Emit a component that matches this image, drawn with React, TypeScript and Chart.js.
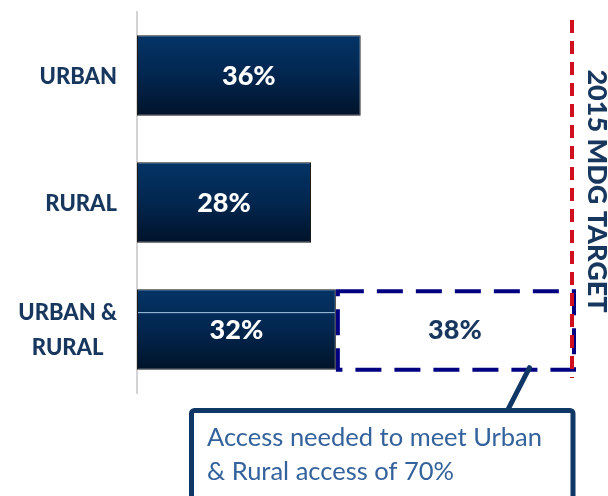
import React, { useEffect, useRef } from "react";
import { Chart, registerables } from "chart.js";

Chart.register(...registerables);

const categories: string[][] = [["URBAN"], ["RURAL"], ["URBAN &", "RURAL"]];
const currentAccess: number[] = [36, 28, 32];
const accessNeeded: (number | null)[] = [null, null, 38];
const targetValue = 70;
const targetLabel = "2015 MDG TARGET";
const calloutLines: string[] = ["Access needed to meet Urban", "& Rural access of 70%"];

const NAVY = "#17375e";
const FONT = "Lato, 'Open Sans', sans-serif";

const overlayPlugin = {
  id: "overlay",
  afterDatasetsDraw(chart: any) {
    const { ctx, chartArea, scales } = chart;
    const xs = scales.x;
    const ys = scales.y;
    ctx.save();

    // category labels
    ctx.fillStyle = NAVY;
    ctx.font = `900 22px ${FONT}`;
    ctx.textBaseline = "middle";
    const labelRight = chartArea.left - 20;
    const lineH = 35;
    categories.forEach((lines, i) => {
      const cy = ys.getPixelForValue(i);
      const maxW = Math.max(...lines.map((l) => ctx.measureText(l).width));
      const cx = labelRight - maxW / 2;
      ctx.textAlign = "center";
      lines.forEach((l, j) => {
        const ly = cy + (j - (lines.length - 1) / 2) * lineH;
        ctx.fillText(l, cx, ly + 1);
      });
    });

    // value labels in current-access bars + light line on combined bar
    const meta0 = chart.getDatasetMeta(0);
    meta0.data.forEach((el: any, i: number) => {
      const p = el.getProps(["x", "y", "base", "height"], true);
      if (i === 2) {
        const top = p.y - p.height / 2;
        ctx.strokeStyle = "#a9c8e8";
        ctx.lineWidth = 1;
        ctx.beginPath();
        ctx.moveTo(p.base + 1, top + p.height * 0.29);
        ctx.lineTo(p.x - 1, top + p.height * 0.29);
        ctx.stroke();
      }
      ctx.fillStyle = "#ffffff";
      ctx.font = `900 27px ${FONT}`;
      ctx.textAlign = "center";
      ctx.textBaseline = "middle";
      ctx.fillText(`${currentAccess[i]}%`, (p.x + p.base) / 2, p.y + 1);
    });

    // dashed "needed" box
    const meta1 = chart.getDatasetMeta(1);
    meta1.data.forEach((el: any, i: number) => {
      if (accessNeeded[i] == null) return;
      const p = el.getProps(["x", "y", "base", "height"], true);
      const top = p.y - p.height / 2 + 2;
      const h = p.height - 2;
      ctx.strokeStyle = "#000080";
      ctx.lineWidth = 4;
      ctx.setLineDash([26, 13]);
      ctx.strokeRect(p.base + 2, top, p.x - p.base, h);
      ctx.setLineDash([]);
      ctx.fillStyle = NAVY;
      ctx.font = `900 27px ${FONT}`;
      ctx.textAlign = "center";
      ctx.textBaseline = "middle";
      ctx.fillText(`${accessNeeded[i]}%`, (p.x + p.base) / 2 + 1, p.y + 1);

      // callout connector
      const bottom = top + h;
      ctx.strokeStyle = "#0f3766";
      ctx.lineWidth = 5;
      ctx.lineCap = "round";
      ctx.beginPath();
      ctx.moveTo(p.base + (p.x - p.base) * 0.82, bottom - 2);
      ctx.lineTo(p.base + (p.x - p.base) * 0.72, bottom + 44);
      ctx.stroke();
      ctx.lineCap = "butt";
    });

    // target line
    const tx = xs.getPixelForValue(targetValue);
    ctx.strokeStyle = "#d0101e";
    ctx.lineWidth = 4;
    ctx.setLineDash([13, 8]);
    ctx.beginPath();
    ctx.moveTo(tx, chartArea.top + 8);
    ctx.lineTo(tx, chartArea.bottom - 15);
    ctx.stroke();
    ctx.setLineDash([]);

    // rotated target label
    ctx.save();
    ctx.translate(tx + 25, chartArea.top + 179);
    ctx.rotate(Math.PI / 2);
    ctx.fillStyle = NAVY;
    ctx.font = `900 27px ${FONT}`;
    ctx.textAlign = "center";
    ctx.textBaseline = "middle";
    ctx.fillText(targetLabel, 0, 0);
    ctx.restore();

    // callout box
    const bx = 191.5;
    const by = 410.5;
    const bw = tx + 1 - bx;
    const bh = 100;
    ctx.fillStyle = "#ffffff";
    ctx.strokeStyle = "#0f3766";
    ctx.lineWidth = 5;
    ctx.beginPath();
    (ctx as any).roundRect(bx, by, bw, bh, 3);
    ctx.fill();
    ctx.stroke();
    ctx.fillStyle = "#33629c";
    ctx.font = `25.5px ${FONT}`;
    ctx.textAlign = "left";
    ctx.textBaseline = "alphabetic";
    calloutLines.forEach((l, j) => {
      ctx.fillText(l, 207, 446 + j * 34);
    });

    ctx.restore();
  },
};

function barGradient(context: any) {
  const chart = context.chart;
  const ys = chart.scales?.y;
  if (!chart.chartArea || !ys || context.dataIndex == null) return "#022a55";
  const cy = ys.getPixelForValue(context.dataIndex);
  const g = chart.ctx.createLinearGradient(0, cy - 40, 0, cy + 40);
  g.addColorStop(0, "#033466");
  g.addColorStop(0.5, "#02264f");
  g.addColorStop(1, "#01132a");
  return g;
}

export default function App() {
  const ref = useRef<HTMLCanvasElement | null>(null);
  useEffect(() => {
    if (!ref.current) return;
    const chart = new Chart(ref.current, {
      type: "bar",
      data: {
        labels: categories,
        datasets: [
          {
            label: "Current access",
            data: currentAccess,
            backgroundColor: barGradient,
            borderColor: "#1a1a1a",
            borderWidth: 1,
            borderSkipped: false,
            categoryPercentage: 0.8,
            barPercentage: 0.79,
          },
          {
            label: "Access needed",
            data: accessNeeded,
            backgroundColor: "rgba(0,0,0,0)",
            borderWidth: 0,
            categoryPercentage: 0.8,
            barPercentage: 0.79,
          },
        ],
      },
      options: {
        indexAxis: "y",
        animation: false,
        responsive: true,
        maintainAspectRatio: false,
        layout: { padding: { left: 137, right: 36, top: 12, bottom: 103 } },
        plugins: {
          legend: { display: false },
          tooltip: { enabled: false },
          title: { display: false },
        },
        scales: {
          x: {
            stacked: true,
            min: 0,
            max: targetValue,
            display: false,
          },
          y: {
            stacked: true,
            ticks: { display: false },
            grid: { display: false, drawTicks: false },
            border: { display: true, color: "#d4d4d4", width: 2 },
            afterFit: (s: any) => {
              s.width = 0;
            },
          },
        },
      },
      plugins: [overlayPlugin],
    });
    return () => chart.destroy();
  }, []);
  return (
    <div style={{ position: "absolute", left: 0, top: 0, width: 608, height: 496, background: "#fff" }}>
      <canvas ref={ref} />
    </div>
  );
}
